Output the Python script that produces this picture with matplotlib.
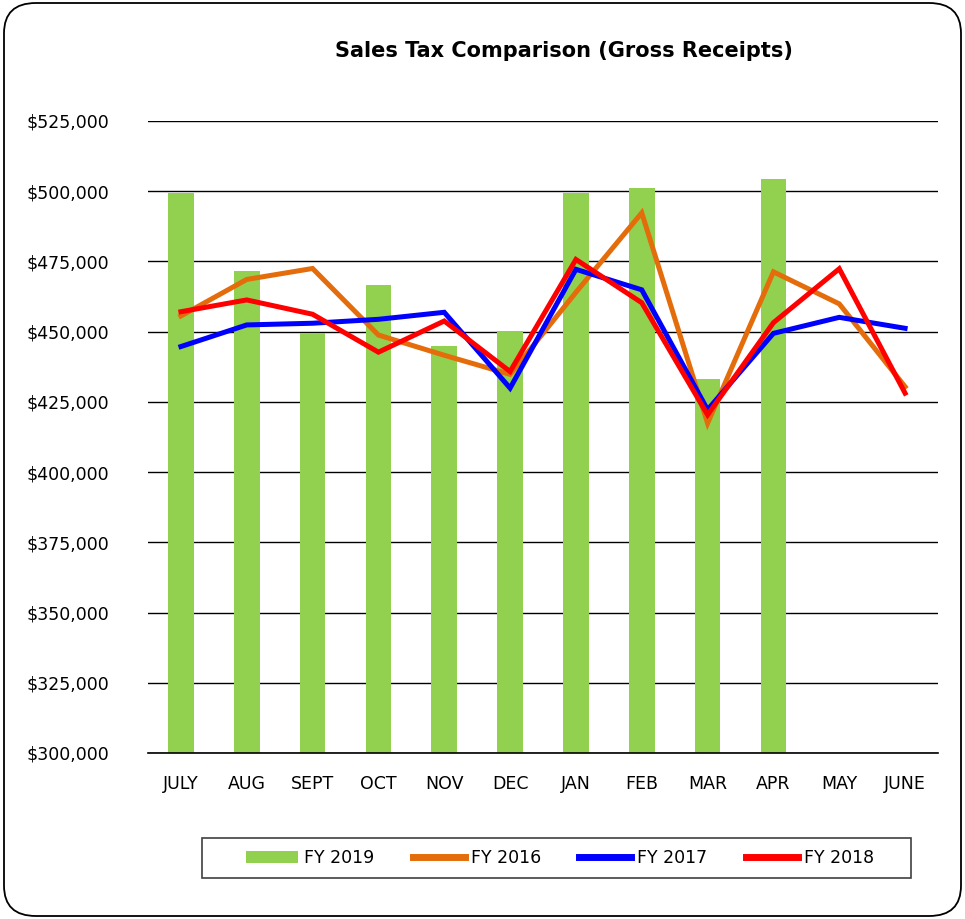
import matplotlib
matplotlib.use("Agg")
import matplotlib.pyplot as plt
import numpy as np
from matplotlib.patches import FancyBboxPatch, Rectangle
from matplotlib.ticker import FuncFormatter, MultipleLocator

months = ["JULY", "AUG", "SEPT", "OCT", "NOV", "DEC", "JAN", "FEB", "MAR", "APR", "MAY", "JUNE"]
fy2019 = [499500, 471500, 449500, 466500, 445000, 450200, 499500, 501300, 433100, 504200, 0, np.nan]
fy2016 = [455600, 468600, 472500, 448800, 441600, 434800, 464000, 492300, 417400, 471300, 459900, 430400]
fy2017 = [444700, 452400, 453000, 454400, 456900, 429900, 472200, 464900, 422200, 449400, 455100, 451200]
fy2018 = [457100, 461300, 456200, 442700, 453800, 435800, 475700, 460300, 420400, 453200, 472400, 428100]

title = "Sales Tax Comparison (Gross Receipts)"

plt.rcParams['font.family'] = ['DejaVu Sans']

fig = plt.figure(figsize=(9.65, 9.19), dpi=100)

# rounded outer border
border = FancyBboxPatch((4 / 965, 3 / 919), 957 / 965, 913 / 919,
                        boxstyle="round,pad=0,rounding_size=0.033",
                        transform=fig.transFigure, fill=False,
                        edgecolor="black", linewidth=1.3)
fig.patches.append(border)

ax = fig.add_axes([148 / 965, 1 - 753 / 919, 790 / 965, (753 - 121) / 919])
x = np.arange(len(months))

b = ax.bar(x, fy2019, width=0.39, color="#92D050", label="FY 2019", zorder=2)
l1, = ax.plot(x, fy2016, color="#E46C0A", lw=3.6, label="FY 2016", zorder=3, solid_joinstyle="miter")
l2, = ax.plot(x, fy2017, color="#0000FF", lw=3.6, label="FY 2017", zorder=4, solid_joinstyle="miter")
l3, = ax.plot(x, fy2018, color="#FF0000", lw=3.6, label="FY 2018", zorder=5, solid_joinstyle="miter")

ax.set_xlim(-0.5, len(months) - 0.5)
ax.set_ylim(300000, 525000)
ax.yaxis.set_major_locator(MultipleLocator(25000))
ax.yaxis.set_major_formatter(FuncFormatter(lambda v, p: "${:,.0f}".format(v)))
ax.set_axisbelow(True)
ax.grid(axis="y", color="black", linewidth=1.0)
ax.axhline(300000, color="black", linewidth=1.2, zorder=2.5, clip_on=False)
for s in ax.spines.values():
    s.set_visible(False)
ax.set_xticks(x)
ax.set_xticklabels(months)
ax.tick_params(axis="both", length=0, labelsize=12.5)
ax.tick_params(axis="y", pad=28)
ax.tick_params(axis="x", pad=16)

fig.text(564 / 965, 1 - 51 / 919, title, ha="center", va="center",
         fontsize=15, fontweight="bold")

# legend frame
frame = Rectangle((202 / 965, 1 - 878 / 919), 709 / 965, 40 / 919,
                  transform=fig.transFigure, fill=False,
                  edgecolor="#404040", linewidth=1.2)
fig.patches.append(frame)

leg = fig.legend([b, l1, l2, l3], ["FY 2019", "FY 2016", "FY 2017", "FY 2018"],
                 loc="center", bbox_to_anchor=(560 / 965, 1 - 858 / 919),
                 ncol=4, frameon=False, fontsize=12.5,
                 handlelength=3.0, handletextpad=0.35, columnspacing=2.2,
                 borderpad=0.3)
for h in leg.get_lines():
    h.set_linewidth(5)

fig.savefig("out.png", dpi=100)
